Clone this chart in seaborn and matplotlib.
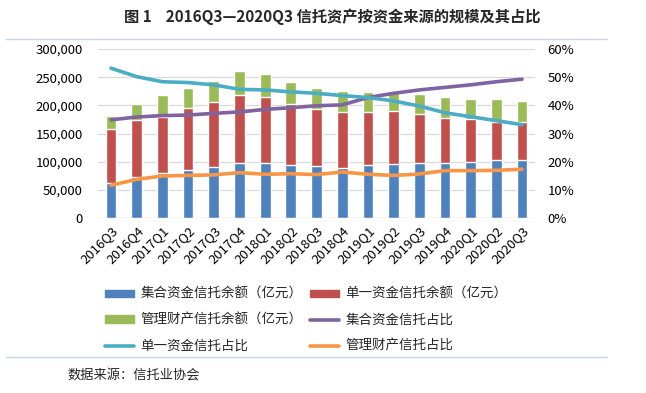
import numpy as np
import pandas as pd
import matplotlib
matplotlib.use("Agg")
import matplotlib.pyplot as plt
from matplotlib.patches import Patch
from matplotlib.lines import Line2D
from matplotlib.ticker import FuncFormatter
import seaborn as sns

# data
quarters = ["2016Q3", "2016Q4", "2017Q1", "2017Q2", "2017Q3", "2017Q4",
            "2018Q1", "2018Q2", "2018Q3", "2018Q4", "2019Q1", "2019Q2",
            "2019Q3", "2019Q4", "2020Q1", "2020Q2", "2020Q3"]
collective = [62000, 73800, 79800, 85100, 91000, 97500, 97500, 94000, 92200,
              89700, 94000, 96800, 97500, 98600, 99300, 102800, 102800]
single = [96900, 100000, 100300, 110500, 115700, 121100, 117600, 109200, 102100,
          99300, 95000, 93400, 86900, 79800, 76800, 67400, 67900]
managed = [22500, 28300, 38500, 35400, 36700, 43100, 40200, 38500, 36600,
           37200, 35500, 34300, 35500, 36700, 36000, 41900, 37300]
collective_pct = [34.9, 35.9, 36.4, 36.6, 37.2, 37.7, 38.6, 39.2, 39.9,
                  40.2, 42.8, 44.3, 45.5, 46.4, 47.3, 48.4, 49.3]
single_pct = [53.2, 50.2, 48.4, 48.1, 47.3, 45.7, 45.5, 44.8, 44.3,
              43.5, 42.8, 41.6, 39.8, 37.4, 36.0, 34.6, 33.2]
managed_pct = [11.7, 13.8, 15.0, 15.2, 15.4, 16.2, 15.6, 15.8, 15.5,
               16.4, 15.6, 15.2, 15.7, 16.9, 16.9, 17.0, 17.4]

c_blue, c_red, c_green = "#4F81BD", "#C0504D", "#9BBB59"
c_purple, c_cyan, c_orange = "#8064A2", "#4BACC6", "#F79646"

sns.set_theme(style="white")
plt.rcParams["font.family"] = ["Noto Sans CJK SC", "DejaVu Sans"]

df = pd.DataFrame({"quarter": quarters,
                   "c": collective, "s": single, "m": managed})
df["cs"] = df["c"] + df["s"]
df["total"] = df["cs"] + df["m"]
df["pos"] = np.arange(len(quarters))

fig = plt.figure(figsize=(6.46, 3.93), dpi=100)
ax = fig.add_axes([0.152, 0.4445, 0.676, 0.4308])

# stacked bars: draw cumulative heights back to front
sns.barplot(data=df, x="quarter", y="total", color=c_green, width=0.42,
            saturation=1, ax=ax, zorder=2)
sns.barplot(data=df, x="quarter", y="cs", color=c_red, width=0.42,
            saturation=1, ax=ax, zorder=2)
sns.barplot(data=df, x="quarter", y="c", color=c_blue, width=0.42,
            saturation=1, ax=ax, zorder=2)

ax.set_ylim(0, 300000)
ax.set_xlim(-0.5, len(quarters) - 0.5)
ax.set_yticks(np.arange(0, 300001, 50000))
ax.yaxis.set_major_formatter(FuncFormatter(lambda v, p: f"{int(v):,}"))
ax.grid(axis="y", color="#D9D9D9", lw=0.9, zorder=0)
ax.set_axisbelow(True)
for sp in ax.spines.values():
    sp.set_visible(False)
ax.set_xlabel("")
ax.set_ylabel("")
ax.tick_params(axis="y", length=0, pad=11, labelsize=9.5, colors="#000000")
ax.tick_params(axis="x", length=0, pad=4, labelsize=9.5, colors="#000000")
plt.setp(ax.get_xticklabels(), rotation=45, ha="right", rotation_mode="anchor")

ax2 = ax.twinx()
sns.lineplot(x=df["pos"], y=collective_pct, color=c_purple, lw=2.6, ax=ax2)
sns.lineplot(x=df["pos"], y=single_pct, color=c_cyan, lw=2.6, ax=ax2)
sns.lineplot(x=df["pos"], y=managed_pct, color=c_orange, lw=2.6, ax=ax2)
ax2.set_ylim(0, 60)
ax2.set_yticks(np.arange(0, 61, 10))
ax2.yaxis.set_major_formatter(FuncFormatter(lambda v, p: f"{int(v)}%"))
ax2.set_xlim(-0.5, len(quarters) - 0.5)
for sp in ax2.spines.values():
    sp.set_visible(False)
ax2.set_ylabel("")
ax2.set_xlabel("")
ax2.tick_params(axis="y", length=0, pad=9, labelsize=9.5, colors="#000000")
ax2.grid(False)
ax.axhline(0, color="#D9D9D9", lw=0.9, zorder=1)

# legend: columns are filled top to bottom
handles = [
    Patch(color=c_blue, label="集合资金信托余额（亿元）"),
    Patch(color=c_green, label="管理财产信托余额（亿元）"),
    Line2D([], [], color=c_cyan, lw=2.6, label="单一资金信托占比"),
    Patch(color=c_red, label="单一资金信托余额（亿元）"),
    Line2D([], [], color=c_purple, lw=2.6, label="集合资金信托占比"),
    Line2D([], [], color=c_orange, lw=2.6, label="管理财产信托占比"),
]
fig.legend(handles=handles, ncol=2, loc="upper left",
           bbox_to_anchor=(0.162, 1 - 287 / 393), frameon=False,
           fontsize=9.7, handlelength=2.2, handleheight=0.45,
           handletextpad=0.45, columnspacing=0.55, labelspacing=0.88,
           borderaxespad=0, borderpad=0)

fig.text(0.515, 0.957, "图 1    2016Q3—2020Q3 信托资产按资金来源的规模及其占比",
         ha="center", va="center", fontsize=11, fontweight="bold")
fig.text(0.105, 0.045, "数据来源：信托业协会", ha="left", va="center",
         fontsize=9.5)

for yy in (1 - 39 / 393, 1 - 357 / 393):
    fig.add_artist(Line2D([6 / 646, 607 / 646], [yy, yy],
                          transform=fig.transFigure, color="#C5D3E6", lw=1))

fig.savefig("out.png", dpi=100)
